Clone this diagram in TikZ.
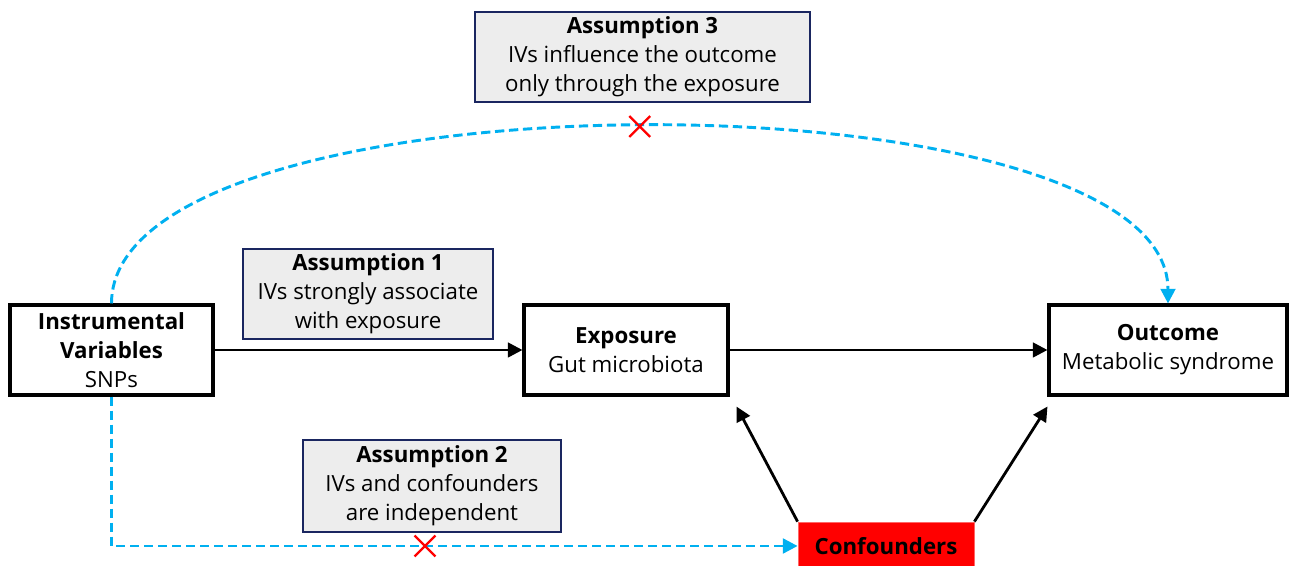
\documentclass[tikz,border=0pt]{standalone}
\usepackage{fontspec}
\setmainfont{Open Sans}
\usetikzlibrary{arrows.meta,shapes.misc}
\definecolor{ivblue}{HTML}{00B0F0}
\definecolor{boxnavy}{HTML}{1A2660}
\definecolor{boxgray}{HTML}{EDEDED}
\newcommand\diagfont{\fontsize{16.7}{21.75}\selectfont}
\begin{document}
\begin{tikzpicture}[x=0.75pt, y=0.75pt, line width=2.1pt,
  varbox/.style={draw=black, line width=2.3pt, fill=white, minimum height=67.5pt, align=center, inner sep=0pt, font=\diagfont},
  assbox/.style={draw=boxnavy, line width=2pt, fill=boxgray, align=center, inner sep=0pt, font=\diagfont},
  arr/.style={-{Triangle[length=11pt,width=11pt]}},
  ivline/.style={ivblue, line width=2.2pt, dash pattern=on 7pt off 3.5pt, -{Triangle[length=11pt,width=11pt]}},
  xmark/.style={cross out, solid, draw=red, line width=1.7pt, minimum size=14pt, inner sep=0pt}]
  \useasboundingbox (0,0) rectangle (1290,566);
  \node[varbox, minimum width=152.25pt] (iv) at (111.5,216) {\textbf{Instrumental}\\\textbf{Variables}\\SNPs};
  \node[varbox, minimum width=153pt] (expo) at (626,216) {\textbf{Exposure}\\Gut microbiota};
  \node[varbox, minimum width=178.5pt] (out) at (1168,216) {\textbf{Outcome}\\Metabolic syndrome};
  \node[draw=red!60!white, line width=0.6pt, fill=red, minimum width=132pt, minimum height=36pt, inner sep=0pt, font=\diagfont\bfseries] (conf) at (886,20) {Confounders};
  \node[assbox, minimum width=251.25pt, minimum height=67.5pt] (a3) at (642.5,509) {\textbf{Assumption 3}\\IVs influence the outcome\\only through the exposure};
  \node[assbox, minimum width=187.5pt, minimum height=67.5pt] (a1) at (368,272) {\textbf{Assumption 1}\\IVs strongly associate\\with exposure};
  \node[assbox, minimum width=193.5pt, minimum height=69pt] (a2) at (432,80) {\textbf{Assumption 2}\\IVs and confounders\\are independent};
  \draw[arr] (iv) -- (expo);
  \draw[arr] (expo) -- (out);
  \draw[arr] (conf.north west) -- ([shift={(7,-10)}]expo.south east);
  \draw[arr] (conf.north east) -- ([shift={(0,-10)}]out.south west);
  \draw[ivline] (iv.north) .. controls +(0,236) and +(0,236) .. (out.north) node[xmark, pos=0.5] (x3) {};
  \draw[ivline] (iv.south) |- (conf.west);
  \node[xmark] (x2) at (425,20) {};
\end{tikzpicture}
\end{document}
